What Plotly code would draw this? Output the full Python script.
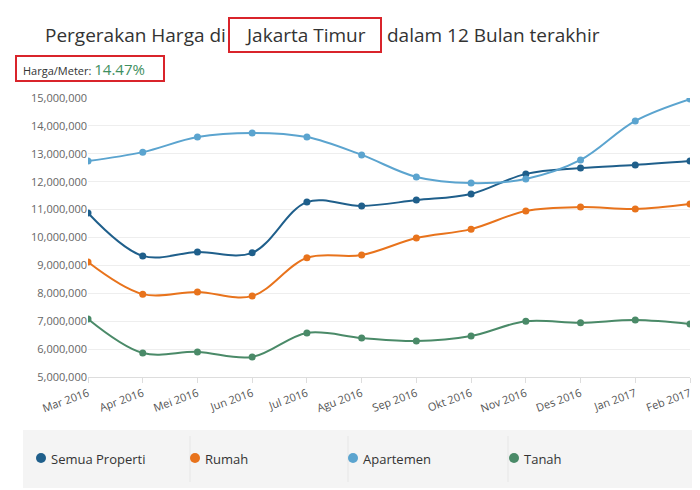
import plotly.graph_objects as go

months = ["Mar 2016","Apr 2016","Mei 2016","Jun 2016","Jul 2016","Agu 2016","Sep 2016","Okt 2016","Nov 2016","Des 2016","Jan 2017","Feb 2017"]
semua = [10880000,9340000,9480000,9450000,11270000,11130000,11340000,11560000,12280000,12490000,12600000,12740000]
rumah = [9120000,7970000,8050000,7900000,9270000,9370000,9980000,10300000,10950000,11090000,11020000,11200000]
apartemen = [12740000,13060000,13600000,13750000,13600000,12960000,12170000,11950000,12100000,12780000,14180000,14960000]
tanah = [7080000,5860000,5900000,5720000,6580000,6400000,6290000,6470000,7000000,6940000,7040000,6900000]
names = ["Semua Properti","Rumah","Apartemen","Tanah"]
colors = ["#1f5f8b","#e8731c","#5ba4cf","#4a8a68"]

L,R,T,B,W,H = 80,18,90,121,700,490
pw, ph = W-L-R, H-T-B
def px(x): return (x-L)/pw
def py(y): return (H-B-y)/ph

fig = go.Figure()
for n,v,c in zip(names,[semua,rumah,apartemen,tanah],colors):
    fig.add_trace(go.Scatter(x=months,y=v,name=n,mode="lines+markers",
        line=dict(color=c,width=2,shape="spline",smoothing=1),marker=dict(size=7,color=c),showlegend=False))

shapes = [
    dict(type="rect",xref="paper",yref="paper",x0=px(15),x1=px(685),y0=py(480),y1=py(422),fillcolor="#f4f4f4",line=dict(width=0),layer="below"),
    dict(type="rect",xref="paper",yref="paper",x0=px(221),x1=px(373),y0=py(44),y1=py(10),line=dict(color="#d9242b",width=2)),
    dict(type="rect",xref="paper",yref="paper",x0=px(8),x1=px(156),y0=py(73),y1=py(48),line=dict(color="#d9242b",width=2)),
]
for xs in [182,340,500]:
    shapes.append(dict(type="line",xref="paper",yref="paper",x0=px(xs),x1=px(xs),y0=py(474),y1=py(428),line=dict(color="#e6e6e6",width=1)))
tf = dict(size=19,color="#333",family="Open Sans")
ann = [
    dict(text="Pergerakan Harga di",xref="paper",yref="paper",x=px(220),y=py(27),xanchor="right",yanchor="middle",showarrow=False,font=tf),
    dict(text="Jakarta Timur",xref="paper",yref="paper",x=px(297),y=py(27),xanchor="center",yanchor="middle",showarrow=False,font=tf),
    dict(text="dalam 12 Bulan terakhir",xref="paper",yref="paper",x=px(377),y=py(27),xanchor="left",yanchor="middle",showarrow=False,font=tf),
    dict(text="Harga/Meter: <span style='color:#3f8f5f;font-size:15px'>14.47%</span>",xref="paper",yref="paper",x=px(13),y=py(61),xanchor="left",yanchor="middle",showarrow=False,font=dict(size=11,color="#333",family="Open Sans")),
]
for xd,n,c in zip([33,187,345,506],names,colors):
    shapes.append(dict(type="circle",xref="paper",yref="paper",x0=px(xd-5),x1=px(xd+5),y0=py(455),y1=py(445),fillcolor=c,line=dict(width=0)))
    ann.append(dict(text=n,xref="paper",yref="paper",x=px(xd+8),y=py(451),xanchor="left",yanchor="middle",showarrow=False,font=dict(size=13,color="#333",family="Open Sans")))

fig.update_layout(width=W,height=H,margin=dict(l=L,r=R,t=T,b=B),plot_bgcolor="white",paper_bgcolor="white",
    shapes=shapes,annotations=ann,font=dict(family="Open Sans",color="#666",size=11),
    xaxis=dict(tickangle=-20,showgrid=False,showline=True,linecolor="#ddd",ticks="outside",tickcolor="#ddd",range=[0,11],tickfont=dict(size=11,color="#555")),
    yaxis=dict(range=[5000000,15000000],dtick=1000000,tickformat=",",gridcolor="#eee",zeroline=False,tickfont=dict(size=11,color="#666")))
fig.write_html("out.html")
